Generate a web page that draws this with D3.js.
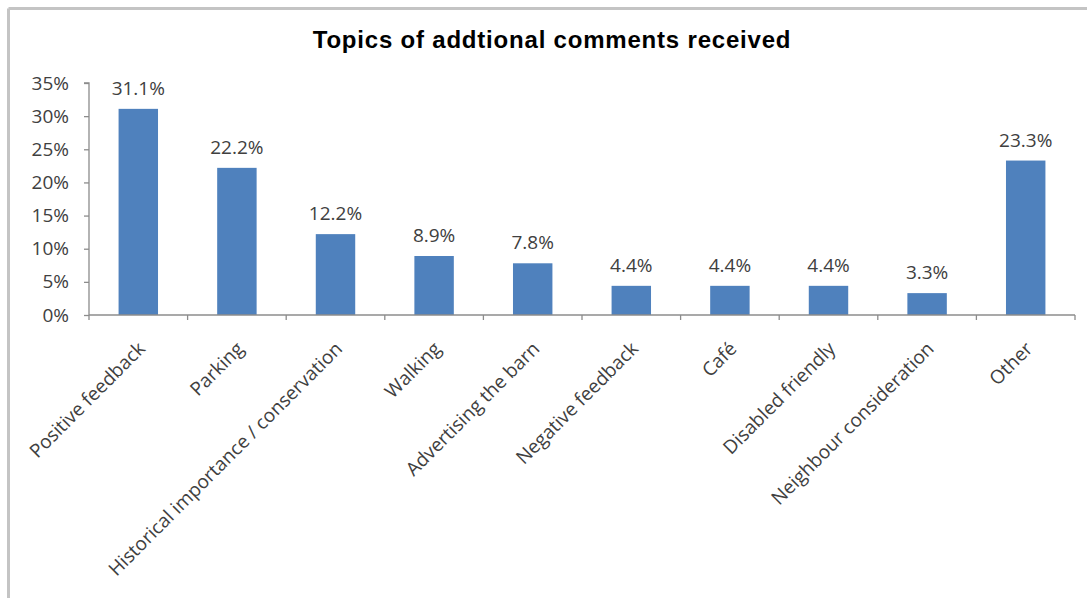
<!DOCTYPE html>
<html>
<head>
<meta charset="utf-8">
<script src="https://cdn.jsdelivr.net/npm/d3@7"></script>
<style>
  html, body { margin: 0; padding: 0; background: #fff; }
  svg { display: block; }
</style>
</head>
<body>
<svg id="chart" width="1087" height="598"></svg>
<script>
// Topic shares of the additional comments
const categories = [
  "Positive feedback", "Parking", "Historical importance / conservation",
  "Walking", "Advertising the barn", "Negative feedback", "Café",
  "Disabled friendly", "Neighbour consideration", "Other"
];
const shares = [31.1, 22.2, 12.2, 8.9, 7.8, 4.4, 4.4, 4.4, 3.3, 23.3];
const yTicks = [0, 5, 10, 15, 20, 25, 30, 35];
const chartTitle = "Topics of addtional comments received";

const svg = d3.select("#chart");
const W = 1087, H = 598;
const margin = { left: 89, right: 12, top: 83, bottom: 283 };
const plotRight = W - margin.right;
const plotBottom = H - margin.bottom;

// chart area frame (top and left edges)
svg.append("line").attr("x1", 8.5).attr("x2", W).attr("y1", 8.5).attr("y2", 8.5)
  .attr("stroke", "#c4c4c4").attr("stroke-width", 3);
svg.append("line").attr("x1", 8.5).attr("x2", 8.5).attr("y1", 8.5).attr("y2", H)
  .attr("stroke", "#c4c4c4").attr("stroke-width", 3);

// title
svg.append("text")
  .attr("x", 552).attr("y", 48)
  .attr("text-anchor", "middle")
  .attr("font-family", "Liberation Sans, Arial, sans-serif")
  .attr("font-weight", "bold")
  .attr("font-size", 24)
  .attr("letter-spacing", 0.8)
  .attr("fill", "#000")
  .text(chartTitle);

const x = d3.scaleBand()
  .domain(categories)
  .range([margin.left, plotRight])
  .paddingInner(0.6)
  .paddingOuter(0.3);

const y = d3.scaleLinear()
  .domain([0, 35])
  .range([plotBottom, margin.top]);

const labelFont = "Open Sans, sans-serif";
const textColor = "#404040";
const axisColor = "#8c8c8c";

// y axis
const yAxis = svg.append("g")
  .attr("transform", `translate(${margin.left},0)`)
  .call(d3.axisLeft(y).tickValues(yTicks).tickSize(5).tickPadding(15)
    .tickFormat(d => d + "%"));
yAxis.selectAll("path, line").attr("stroke", axisColor).attr("stroke-width", 1.3);
yAxis.select("path").attr("d", `M-5,${y(35)}H0V${y(0)}`);
yAxis.selectAll("text")
  .attr("font-family", labelFont).attr("font-size", 19).attr("fill", textColor);

// bars
svg.append("g").selectAll("rect")
  .data(shares)
  .join("rect")
  .attr("x", (d, i) => x(categories[i]))
  .attr("width", x.bandwidth())
  .attr("y", d => y(d))
  .attr("height", d => y(0) - y(d))
  .attr("fill", "#4f81bd");

// value labels
svg.append("g").selectAll("text")
  .data(shares)
  .join("text")
  .attr("x", (d, i) => x(categories[i]) + x.bandwidth() / 2)
  .attr("y", d => y(d) - 14)
  .attr("text-anchor", "middle")
  .attr("font-family", labelFont).attr("font-size", 19).attr("fill", textColor)
  .text(d => d.toFixed(1) + "%");

// x axis line with boundary ticks
const step = x.step();
const xAxis = svg.append("g");
xAxis.append("line")
  .attr("x1", margin.left).attr("x2", plotRight)
  .attr("y1", y(0)).attr("y2", y(0))
  .attr("stroke", axisColor).attr("stroke-width", 1.3);
xAxis.selectAll("line.tick")
  .data(d3.range(categories.length + 1))
  .join("line")
  .attr("class", "tick")
  .attr("x1", i => margin.left + i * step).attr("x2", i => margin.left + i * step)
  .attr("y1", y(0)).attr("y2", y(0) + 5)
  .attr("stroke", axisColor).attr("stroke-width", 1.3);

// rotated category labels
xAxis.selectAll("text")
  .data(categories)
  .join("text")
  .attr("transform", d => `translate(${x(d) + x.bandwidth() / 2 + 8},350) rotate(-45)`)
  .attr("text-anchor", "end")
  .attr("font-family", labelFont).attr("font-size", 19).attr("fill", textColor)
  .text(d => d);
</script>
</body>
</html>
